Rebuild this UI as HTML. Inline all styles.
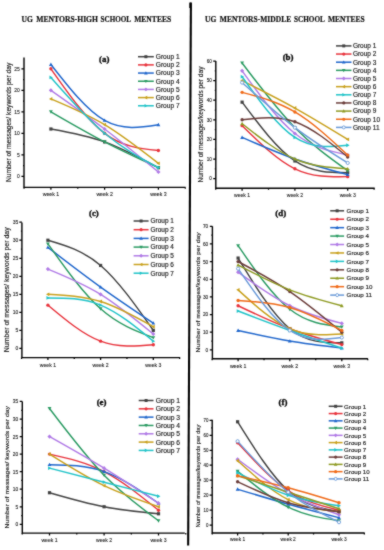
<!DOCTYPE html>
<html><head><meta charset="utf-8"><style>
html,body{margin:0;padding:0;background:#fff;}
svg{display:block;}
.tl{font-family:"Liberation Sans",sans-serif;font-size:5.6px;fill:#1a1a1a;stroke:#1a1a1a;stroke-width:0.12px;}
.wk{font-family:"Liberation Sans",sans-serif;font-size:5.4px;fill:#1a1a1a;stroke:#1a1a1a;stroke-width:0.1px;}
.yl{font-family:"Liberation Sans",sans-serif;font-size:6px;fill:#1a1a1a;stroke:#1a1a1a;stroke-width:0.15px;}
.lg{font-family:"Liberation Sans",sans-serif;font-size:6.7px;fill:#1a1a1a;stroke:#1a1a1a;stroke-width:0.15px;}
.pl{font-family:"Liberation Serif",serif;font-weight:bold;font-size:8.9px;fill:#0a0a0a;stroke:#0a0a0a;stroke-width:0.35px;}
.hd{font-family:"Liberation Serif",serif;font-weight:bold;font-size:8.5px;fill:#111;stroke:#111;stroke-width:0.2px;}
</style></head><body>
<svg width="384" height="550" viewBox="0 0 384 550">
<defs><filter id="soft" x="0" y="0" width="384" height="550" filterUnits="userSpaceOnUse" color-interpolation-filters="sRGB"><feConvolveMatrix order="3" kernelMatrix="1 2 1 2 16 2 1 2 1" divisor="28" edgeMode="duplicate"/></filter></defs>
<g filter="url(#soft)">
<rect width="384" height="550" fill="#fff"/>
<text x="21.6" y="21.5" class="hd" textLength="11.3" lengthAdjust="spacingAndGlyphs">UG</text>
<text x="36.2" y="21.5" class="hd" textLength="61.8" lengthAdjust="spacingAndGlyphs">MENTORS-HIGH</text>
<text x="100.6" y="21.5" class="hd" textLength="30.5" lengthAdjust="spacingAndGlyphs">SCHOOL</text>
<text x="134.2" y="21.5" class="hd" textLength="37.0" lengthAdjust="spacingAndGlyphs">MENTEES</text>
<text x="205.1" y="22.3" class="hd" textLength="11.2" lengthAdjust="spacingAndGlyphs">UG</text>
<text x="219.8" y="22.3" class="hd" textLength="71.4" lengthAdjust="spacingAndGlyphs">MENTORS-MIDDLE</text>
<text x="294.0" y="22.3" class="hd" textLength="30.8" lengthAdjust="spacingAndGlyphs">SCHOOL</text>
<text x="328.0" y="22.3" class="hd" textLength="36.7" lengthAdjust="spacingAndGlyphs">MENTEES</text>
<path d="M190.9,2.6 L188.15,545.4" stroke="#000" stroke-width="2.1"/>
<rect x="189.3" y="2.6" width="1.5" height="5.4" fill="#000"/>
<path d="M24.00,57.60 V187.40 H185.60" fill="none" stroke="#000" stroke-width="1.4"/>
<text x="16.95" y="178.28" class="tl" style="font-size:5.5px" textLength="2.75" lengthAdjust="spacingAndGlyphs">0</text>
<text x="16.95" y="156.78" class="tl" style="font-size:5.5px" textLength="2.75" lengthAdjust="spacingAndGlyphs">5</text>
<text x="14.20" y="135.28" class="tl" style="font-size:5.5px" textLength="5.50" lengthAdjust="spacingAndGlyphs">10</text>
<text x="14.20" y="113.78" class="tl" style="font-size:5.5px" textLength="5.50" lengthAdjust="spacingAndGlyphs">15</text>
<text x="14.20" y="92.28" class="tl" style="font-size:5.5px" textLength="5.50" lengthAdjust="spacingAndGlyphs">20</text>
<text x="14.20" y="70.78" class="tl" style="font-size:5.5px" textLength="5.50" lengthAdjust="spacingAndGlyphs">25</text>
<text x="50.90" y="196.00" class="wk" style="font-size:5.2px" text-anchor="middle">week 1</text>
<text x="104.60" y="196.00" class="wk" style="font-size:5.2px" text-anchor="middle">week 2</text>
<text x="158.40" y="196.00" class="wk" style="font-size:5.2px" text-anchor="middle">week 3</text>
<path d="M21.40,176.30 H24.00 M21.40,154.80 H24.00 M21.40,133.30 H24.00 M21.40,111.80 H24.00 M21.40,90.30 H24.00 M21.40,68.80 H24.00 M23.00,165.55 H24.00 M23.00,144.05 H24.00 M23.00,122.55 H24.00 M23.00,101.05 H24.00 M23.00,79.55 H24.00 M50.90,187.40 V189.80 M104.60,187.40 V189.80 M158.40,187.40 V189.80 M24.02,187.40 V188.80 M77.78,187.40 V188.80 M131.47,187.40 V188.80 M185.28,187.40 V188.80" fill="none" stroke="#000" stroke-width="1.25"/>
<text x="-59.75" y="2.38" transform="translate(8.65 122.35) rotate(-90)" class="yl" style="font-size:6.6px" textLength="119.5" lengthAdjust="spacingAndGlyphs">Number of messages/ keywords per day</text>
<path d="M50.90,129.00 C68.80,132.23 86.70,135.46 104.60,141.90 C122.53,148.35 140.47,158.03 158.40,167.70" fill="none" stroke="#424242" stroke-width="1.45"/>
<rect x="49.30" y="127.40" width="3.20" height="3.20" fill="#424242"/>
<rect x="103.00" y="140.30" width="3.20" height="3.20" fill="#424242"/>
<rect x="156.80" y="166.10" width="3.20" height="3.20" fill="#424242"/>
<path d="M50.90,68.80 C68.80,94.24 86.70,119.68 104.60,133.30 C122.53,146.94 140.47,148.72 158.40,150.50" fill="none" stroke="#e8333c" stroke-width="1.45"/>
<circle cx="50.90" cy="68.80" r="1.68" fill="#e8333c"/>
<circle cx="104.60" cy="133.30" r="1.68" fill="#e8333c"/>
<circle cx="158.40" cy="150.50" r="1.68" fill="#e8333c"/>
<path d="M50.90,64.50 C68.80,87.43 86.70,110.36 104.60,120.40 C122.53,130.46 140.47,127.58 158.40,124.70" fill="none" stroke="#1f66cc" stroke-width="1.45"/>
<polygon points="50.90,62.58 48.98,65.94 52.82,65.94" fill="#1f66cc"/>
<polygon points="104.60,118.48 102.68,121.84 106.52,121.84" fill="#1f66cc"/>
<polygon points="158.40,122.78 156.48,126.14 160.32,126.14" fill="#1f66cc"/>
<path d="M50.90,111.80 C68.80,122.20 86.70,132.59 104.60,141.90 C122.53,151.23 140.47,159.46 158.40,167.70" fill="none" stroke="#2b9b63" stroke-width="1.45"/>
<polygon points="50.90,113.72 48.98,110.36 52.82,110.36" fill="#2b9b63"/>
<polygon points="104.60,143.82 102.68,140.46 106.52,140.46" fill="#2b9b63"/>
<polygon points="158.40,169.62 156.48,166.26 160.32,166.26" fill="#2b9b63"/>
<path d="M50.90,90.30 C68.80,102.85 86.70,115.40 104.60,129.00 C122.53,142.63 140.47,157.31 158.40,172.00" fill="none" stroke="#b07ae6" stroke-width="1.45"/>
<polygon points="50.90,88.22 52.98,90.30 50.90,92.38 48.82,90.30" fill="#b07ae6"/>
<polygon points="104.60,126.92 106.68,129.00 104.60,131.08 102.52,129.00" fill="#b07ae6"/>
<polygon points="158.40,169.92 160.48,172.00 158.40,174.08 156.32,172.00" fill="#b07ae6"/>
<path d="M50.90,98.90 C68.80,106.43 86.70,113.96 104.60,124.70 C122.53,135.46 140.47,149.43 158.40,163.40" fill="none" stroke="#c8a01c" stroke-width="1.45"/>
<polygon points="48.98,98.90 52.34,96.98 52.34,100.82" fill="#c8a01c"/>
<polygon points="102.68,124.70 106.04,122.78 106.04,126.62" fill="#c8a01c"/>
<polygon points="156.48,163.40 159.84,161.48 159.84,165.32" fill="#c8a01c"/>
<path d="M50.90,77.40 C68.80,97.83 86.70,118.26 104.60,133.30 C122.53,148.37 140.47,158.04 158.40,167.70" fill="none" stroke="#1fc3c8" stroke-width="1.45"/>
<polygon points="52.82,77.40 49.46,75.48 49.46,79.32" fill="#1fc3c8"/>
<polygon points="106.52,133.30 103.16,131.38 103.16,135.22" fill="#1fc3c8"/>
<polygon points="160.32,167.70 156.96,165.78 156.96,169.62" fill="#1fc3c8"/>
<path d="M138.00,56.70 H153.80" stroke="#424242" stroke-width="1.5"/>
<rect x="144.40" y="55.20" width="3.00" height="3.00" fill="#424242"/>
<text x="155.80" y="59.08" class="lg" style="font-size:6.6px">Group 1</text>
<path d="M138.00,64.88 H153.80" stroke="#e8333c" stroke-width="1.5"/>
<circle cx="145.90" cy="64.88" r="1.58" fill="#e8333c"/>
<text x="155.80" y="67.26" class="lg" style="font-size:6.6px">Group 2</text>
<path d="M138.00,73.06 H153.80" stroke="#1f66cc" stroke-width="1.5"/>
<polygon points="145.90,71.26 144.10,74.41 147.70,74.41" fill="#1f66cc"/>
<text x="155.80" y="75.44" class="lg" style="font-size:6.6px">Group 3</text>
<path d="M138.00,81.24 H153.80" stroke="#2b9b63" stroke-width="1.5"/>
<polygon points="145.90,83.04 144.10,79.89 147.70,79.89" fill="#2b9b63"/>
<text x="155.80" y="83.62" class="lg" style="font-size:6.6px">Group 4</text>
<path d="M138.00,89.42 H153.80" stroke="#b07ae6" stroke-width="1.5"/>
<polygon points="145.90,87.47 147.85,89.42 145.90,91.37 143.95,89.42" fill="#b07ae6"/>
<text x="155.80" y="91.80" class="lg" style="font-size:6.6px">Group 5</text>
<path d="M138.00,97.60 H153.80" stroke="#c8a01c" stroke-width="1.5"/>
<polygon points="144.10,97.60 147.25,95.80 147.25,99.40" fill="#c8a01c"/>
<text x="155.80" y="99.98" class="lg" style="font-size:6.6px">Group 6</text>
<path d="M138.00,105.78 H153.80" stroke="#1fc3c8" stroke-width="1.5"/>
<polygon points="147.70,105.78 144.55,103.98 144.55,107.58" fill="#1fc3c8"/>
<text x="155.80" y="108.16" class="lg" style="font-size:6.6px">Group 7</text>
<text x="104.30" y="61.70" class="pl" text-anchor="middle">(a)</text>
<path d="M215.80,61.00 V188.30 H374.70" fill="none" stroke="#000" stroke-width="1.4"/>
<text x="209.25" y="180.44" class="tl" style="font-size:5.1px" textLength="2.55" lengthAdjust="spacingAndGlyphs">0</text>
<text x="206.70" y="160.84" class="tl" style="font-size:5.1px" textLength="5.10" lengthAdjust="spacingAndGlyphs">10</text>
<text x="206.70" y="141.24" class="tl" style="font-size:5.1px" textLength="5.10" lengthAdjust="spacingAndGlyphs">20</text>
<text x="206.70" y="121.64" class="tl" style="font-size:5.1px" textLength="5.10" lengthAdjust="spacingAndGlyphs">30</text>
<text x="206.70" y="102.04" class="tl" style="font-size:5.1px" textLength="5.10" lengthAdjust="spacingAndGlyphs">40</text>
<text x="206.70" y="82.44" class="tl" style="font-size:5.1px" textLength="5.10" lengthAdjust="spacingAndGlyphs">50</text>
<text x="206.70" y="62.84" class="tl" style="font-size:5.1px" textLength="5.10" lengthAdjust="spacingAndGlyphs">60</text>
<text x="242.10" y="197.40" class="wk" style="font-size:5.1px" text-anchor="middle">week 1</text>
<text x="294.90" y="197.40" class="wk" style="font-size:5.1px" text-anchor="middle">week 2</text>
<text x="347.70" y="197.40" class="wk" style="font-size:5.1px" text-anchor="middle">week 3</text>
<path d="M213.20,178.60 H215.80 M213.20,159.00 H215.80 M213.20,139.40 H215.80 M213.20,119.80 H215.80 M213.20,100.20 H215.80 M213.20,80.60 H215.80 M213.20,61.00 H215.80 M214.80,168.80 H215.80 M214.80,149.20 H215.80 M214.80,129.60 H215.80 M214.80,110.00 H215.80 M214.80,90.40 H215.80 M214.80,70.80 H215.80 M242.10,188.30 V190.70 M294.90,188.30 V190.70 M347.70,188.30 V190.70 M215.70,188.30 V189.70 M268.50,188.30 V189.70 M321.30,188.30 V189.70 M374.10,188.30 V189.70" fill="none" stroke="#000" stroke-width="1.25"/>
<text x="-58.05" y="2.30" transform="translate(200.45 124.55) rotate(-90)" class="yl" style="font-size:6.4px" textLength="116.1" lengthAdjust="spacingAndGlyphs">Number of messages/keywords per day</text>
<path d="M242.10,102.16 C259.70,125.68 277.30,149.20 294.90,160.96 C312.50,172.72 330.10,172.72 347.70,172.72" fill="none" stroke="#424242" stroke-width="1.45"/>
<rect x="240.50" y="100.56" width="3.20" height="3.20" fill="#424242"/>
<rect x="293.30" y="159.36" width="3.20" height="3.20" fill="#424242"/>
<rect x="346.10" y="171.12" width="3.20" height="3.20" fill="#424242"/>
<path d="M242.10,125.68 C259.70,142.99 277.30,160.31 294.90,168.80 C312.50,177.29 330.10,176.97 347.70,176.64" fill="none" stroke="#e8333c" stroke-width="1.45"/>
<circle cx="242.10" cy="125.68" r="1.68" fill="#e8333c"/>
<circle cx="294.90" cy="168.80" r="1.68" fill="#e8333c"/>
<circle cx="347.70" cy="176.64" r="1.68" fill="#e8333c"/>
<path d="M242.10,137.44 C259.70,145.12 277.30,152.79 294.90,159.00 C312.50,165.21 330.10,169.94 347.70,174.68" fill="none" stroke="#1f66cc" stroke-width="1.45"/>
<polygon points="242.10,135.52 240.18,138.88 244.02,138.88" fill="#1f66cc"/>
<polygon points="294.90,157.08 292.98,160.44 296.82,160.44" fill="#1f66cc"/>
<polygon points="347.70,172.76 345.78,176.12 349.62,176.12" fill="#1f66cc"/>
<path d="M242.10,62.96 C259.70,86.32 277.30,109.67 294.90,127.64 C312.50,145.61 330.10,158.18 347.70,170.76" fill="none" stroke="#2b9b63" stroke-width="1.45"/>
<polygon points="242.10,64.88 240.18,61.52 244.02,61.52" fill="#2b9b63"/>
<polygon points="294.90,129.56 292.98,126.20 296.82,126.20" fill="#2b9b63"/>
<polygon points="347.70,172.68 345.78,169.32 349.62,169.32" fill="#2b9b63"/>
<path d="M242.10,70.80 C259.70,95.14 277.30,119.47 294.90,133.52 C312.50,147.57 330.10,151.32 347.70,155.08" fill="none" stroke="#b07ae6" stroke-width="1.45"/>
<polygon points="242.10,68.72 244.18,70.80 242.10,72.88 240.02,70.80" fill="#b07ae6"/>
<polygon points="294.90,131.44 296.98,133.52 294.90,135.60 292.82,133.52" fill="#b07ae6"/>
<polygon points="347.70,153.00 349.78,155.08 347.70,157.16 345.62,155.08" fill="#b07ae6"/>
<path d="M242.10,80.60 C259.70,89.42 277.30,98.24 294.90,108.04 C312.50,117.84 330.10,128.62 347.70,139.40" fill="none" stroke="#c8a01c" stroke-width="1.45"/>
<polygon points="240.18,80.60 243.54,78.68 243.54,82.52" fill="#c8a01c"/>
<polygon points="292.98,108.04 296.34,106.12 296.34,109.96" fill="#c8a01c"/>
<polygon points="345.78,139.40 349.14,137.48 349.14,141.32" fill="#c8a01c"/>
<path d="M242.10,76.68 C259.70,101.34 277.30,126.01 294.90,137.44 C312.50,148.87 330.10,147.08 347.70,145.28" fill="none" stroke="#1fc3c8" stroke-width="1.45"/>
<polygon points="244.02,76.68 240.66,74.76 240.66,78.60" fill="#1fc3c8"/>
<polygon points="296.82,137.44 293.46,135.52 293.46,139.36" fill="#1fc3c8"/>
<polygon points="349.62,145.28 346.26,143.36 346.26,147.20" fill="#1fc3c8"/>
<path d="M242.10,119.80 C259.70,117.68 277.30,115.55 294.90,121.76 C312.50,127.97 330.10,142.50 347.70,157.04" fill="none" stroke="#6b3d3a" stroke-width="1.45"/>
<circle cx="242.10" cy="119.80" r="1.68" fill="#6b3d3a"/>
<circle cx="294.90" cy="121.76" r="1.68" fill="#6b3d3a"/>
<circle cx="347.70" cy="157.04" r="1.68" fill="#6b3d3a"/>
<path d="M242.10,123.72 C259.70,137.60 277.30,151.49 294.90,159.00 C312.50,166.51 330.10,167.66 347.70,168.80" fill="none" stroke="#8e9a22" stroke-width="1.45"/>
<polygon points="242.10,121.80 240.18,125.16 244.02,125.16" fill="#8e9a22"/>
<polygon points="294.90,157.08 292.98,160.44 296.82,160.44" fill="#8e9a22"/>
<polygon points="347.70,166.88 345.78,170.24 349.62,170.24" fill="#8e9a22"/>
<path d="M242.10,92.36 C259.70,96.93 277.30,101.51 294.90,111.96 C312.50,122.41 330.10,138.75 347.70,155.08" fill="none" stroke="#f06a18" stroke-width="1.45"/>
<circle cx="242.10" cy="92.36" r="1.68" fill="#f06a18"/>
<circle cx="294.90" cy="111.96" r="1.68" fill="#f06a18"/>
<circle cx="347.70" cy="155.08" r="1.68" fill="#f06a18"/>
<path d="M242.10,82.56 C259.70,98.40 277.30,114.25 294.90,127.64 C312.50,141.03 330.10,151.98 347.70,162.92" fill="none" stroke="#6a9ad8" stroke-width="1.45"/>
<circle cx="242.10" cy="82.56" r="1.60" fill="#fff" stroke="#6a9ad8" stroke-width="0.9"/>
<circle cx="294.90" cy="127.64" r="1.60" fill="#fff" stroke="#6a9ad8" stroke-width="0.9"/>
<circle cx="347.70" cy="162.92" r="1.60" fill="#fff" stroke="#6a9ad8" stroke-width="0.9"/>
<path d="M336.00,45.90 H351.50" stroke="#424242" stroke-width="1.5"/>
<rect x="342.25" y="44.40" width="3.00" height="3.00" fill="#424242"/>
<text x="352.90" y="48.24" class="lg" style="font-size:6.5px">Group 1</text>
<path d="M336.00,54.05 H351.50" stroke="#e8333c" stroke-width="1.5"/>
<circle cx="343.75" cy="54.05" r="1.58" fill="#e8333c"/>
<text x="352.90" y="56.39" class="lg" style="font-size:6.5px">Group 2</text>
<path d="M336.00,62.20 H351.50" stroke="#1f66cc" stroke-width="1.5"/>
<polygon points="343.75,60.40 341.95,63.55 345.55,63.55" fill="#1f66cc"/>
<text x="352.90" y="64.54" class="lg" style="font-size:6.5px">Group 3</text>
<path d="M336.00,70.35 H351.50" stroke="#2b9b63" stroke-width="1.5"/>
<polygon points="343.75,72.15 341.95,69.00 345.55,69.00" fill="#2b9b63"/>
<text x="352.90" y="72.69" class="lg" style="font-size:6.5px">Group 4</text>
<path d="M336.00,78.50 H351.50" stroke="#b07ae6" stroke-width="1.5"/>
<polygon points="343.75,76.55 345.70,78.50 343.75,80.45 341.80,78.50" fill="#b07ae6"/>
<text x="352.90" y="80.84" class="lg" style="font-size:6.5px">Group 5</text>
<path d="M336.00,86.65 H351.50" stroke="#c8a01c" stroke-width="1.5"/>
<polygon points="341.95,86.65 345.10,84.85 345.10,88.45" fill="#c8a01c"/>
<text x="352.90" y="88.99" class="lg" style="font-size:6.5px">Group 6</text>
<path d="M336.00,94.80 H351.50" stroke="#1fc3c8" stroke-width="1.5"/>
<polygon points="345.55,94.80 342.40,93.00 342.40,96.60" fill="#1fc3c8"/>
<text x="352.90" y="97.14" class="lg" style="font-size:6.5px">Group 7</text>
<path d="M336.00,102.95 H351.50" stroke="#6b3d3a" stroke-width="1.5"/>
<circle cx="343.75" cy="102.95" r="1.58" fill="#6b3d3a"/>
<text x="352.90" y="105.29" class="lg" style="font-size:6.5px">Group 8</text>
<path d="M336.00,111.10 H351.50" stroke="#8e9a22" stroke-width="1.5"/>
<polygon points="343.75,109.30 341.95,112.45 345.55,112.45" fill="#8e9a22"/>
<text x="352.90" y="113.44" class="lg" style="font-size:6.5px">Group 9</text>
<path d="M336.00,119.25 H351.50" stroke="#f06a18" stroke-width="1.5"/>
<circle cx="343.75" cy="119.25" r="1.58" fill="#f06a18"/>
<text x="352.90" y="121.59" class="lg" style="font-size:6.5px">Group 10</text>
<path d="M336.00,127.40 H351.50" stroke="#6a9ad8" stroke-width="1.5"/>
<circle cx="343.75" cy="127.40" r="1.50" fill="#fff" stroke="#6a9ad8" stroke-width="0.9"/>
<text x="352.90" y="129.74" class="lg" style="font-size:6.5px">Group 11</text>
<text x="288.10" y="59.60" class="pl" text-anchor="middle">(b)</text>
<path d="M21.90,222.50 V357.60 H180.10" fill="none" stroke="#000" stroke-width="1.4"/>
<text x="15.45" y="350.38" class="tl" style="font-size:5.5px" textLength="2.75" lengthAdjust="spacingAndGlyphs">0</text>
<text x="15.45" y="332.35" class="tl" style="font-size:5.5px" textLength="2.75" lengthAdjust="spacingAndGlyphs">5</text>
<text x="12.70" y="314.32" class="tl" style="font-size:5.5px" textLength="5.50" lengthAdjust="spacingAndGlyphs">10</text>
<text x="12.70" y="296.29" class="tl" style="font-size:5.5px" textLength="5.50" lengthAdjust="spacingAndGlyphs">15</text>
<text x="12.70" y="278.26" class="tl" style="font-size:5.5px" textLength="5.50" lengthAdjust="spacingAndGlyphs">20</text>
<text x="12.70" y="260.23" class="tl" style="font-size:5.5px" textLength="5.50" lengthAdjust="spacingAndGlyphs">25</text>
<text x="12.70" y="242.20" class="tl" style="font-size:5.5px" textLength="5.50" lengthAdjust="spacingAndGlyphs">30</text>
<text x="12.70" y="224.17" class="tl" style="font-size:5.5px" textLength="5.50" lengthAdjust="spacingAndGlyphs">35</text>
<text x="47.90" y="366.70" class="wk" style="font-size:5.1px" text-anchor="middle">week 1</text>
<text x="100.60" y="366.70" class="wk" style="font-size:5.1px" text-anchor="middle">week 2</text>
<text x="153.30" y="366.70" class="wk" style="font-size:5.1px" text-anchor="middle">week 3</text>
<path d="M19.30,348.40 H21.90 M19.30,330.37 H21.90 M19.30,312.34 H21.90 M19.30,294.31 H21.90 M19.30,276.28 H21.90 M19.30,258.25 H21.90 M19.30,240.22 H21.90 M19.30,222.19 H21.90 M20.90,339.38 H21.90 M20.90,321.35 H21.90 M20.90,303.32 H21.90 M20.90,285.29 H21.90 M20.90,267.26 H21.90 M20.90,249.23 H21.90 M20.90,231.20 H21.90 M47.90,357.60 V360.00 M100.60,357.60 V360.00 M153.30,357.60 V360.00 M21.55,357.60 V359.00 M74.25,357.60 V359.00 M126.95,357.60 V359.00 M179.65,357.60 V359.00" fill="none" stroke="#000" stroke-width="1.25"/>
<text x="-62.50" y="2.27" transform="translate(6.55 289.80) rotate(-90)" class="yl" style="font-size:6.3px" textLength="125.0" lengthAdjust="spacingAndGlyphs">Number of messages/ keywords per day</text>
<path d="M47.90,240.22 C65.47,245.33 83.03,250.44 100.60,265.46 C118.17,280.49 135.73,305.43 153.30,330.37" fill="none" stroke="#424242" stroke-width="1.45"/>
<rect x="46.30" y="238.62" width="3.20" height="3.20" fill="#424242"/>
<rect x="99.00" y="263.86" width="3.20" height="3.20" fill="#424242"/>
<rect x="151.70" y="328.77" width="3.20" height="3.20" fill="#424242"/>
<path d="M47.90,305.13 C65.47,319.85 83.03,334.58 100.60,341.19 C118.17,347.80 135.73,346.30 153.30,344.79" fill="none" stroke="#e8333c" stroke-width="1.45"/>
<circle cx="47.90" cy="305.13" r="1.68" fill="#e8333c"/>
<circle cx="100.60" cy="341.19" r="1.68" fill="#e8333c"/>
<circle cx="153.30" cy="344.79" r="1.68" fill="#e8333c"/>
<path d="M47.90,247.43 C65.47,260.95 83.03,274.48 100.60,287.10 C118.17,299.72 135.73,311.44 153.30,323.16" fill="none" stroke="#1f66cc" stroke-width="1.45"/>
<polygon points="47.90,245.51 45.98,248.87 49.82,248.87" fill="#1f66cc"/>
<polygon points="100.60,285.18 98.68,288.54 102.52,288.54" fill="#1f66cc"/>
<polygon points="153.30,321.24 151.38,324.60 155.22,324.60" fill="#1f66cc"/>
<path d="M47.90,243.83 C65.47,268.47 83.03,293.11 100.60,308.73 C118.17,324.36 135.73,330.97 153.30,337.58" fill="none" stroke="#2b9b63" stroke-width="1.45"/>
<polygon points="47.90,245.75 45.98,242.39 49.82,242.39" fill="#2b9b63"/>
<polygon points="100.60,310.65 98.68,307.29 102.52,307.29" fill="#2b9b63"/>
<polygon points="153.30,339.50 151.38,336.14 155.22,336.14" fill="#2b9b63"/>
<path d="M47.90,269.07 C65.47,276.28 83.03,283.49 100.60,294.31 C118.17,305.13 135.73,319.55 153.30,333.98" fill="none" stroke="#b07ae6" stroke-width="1.45"/>
<polygon points="47.90,266.99 49.98,269.07 47.90,271.15 45.82,269.07" fill="#b07ae6"/>
<polygon points="100.60,292.23 102.68,294.31 100.60,296.39 98.52,294.31" fill="#b07ae6"/>
<polygon points="153.30,331.90 155.38,333.98 153.30,336.06 151.22,333.98" fill="#b07ae6"/>
<path d="M47.90,294.31 C65.47,295.21 83.03,296.11 100.60,301.52 C118.17,306.93 135.73,316.85 153.30,326.76" fill="none" stroke="#c8a01c" stroke-width="1.45"/>
<polygon points="45.98,294.31 49.34,292.39 49.34,296.23" fill="#c8a01c"/>
<polygon points="98.68,301.52 102.04,299.60 102.04,303.44" fill="#c8a01c"/>
<polygon points="151.38,326.76 154.74,324.84 154.74,328.68" fill="#c8a01c"/>
<path d="M47.90,297.92 C65.47,297.92 83.03,297.92 100.60,305.13 C118.17,312.34 135.73,326.76 153.30,341.19" fill="none" stroke="#1fc3c8" stroke-width="1.45"/>
<polygon points="49.82,297.92 46.46,296.00 46.46,299.84" fill="#1fc3c8"/>
<polygon points="102.52,305.13 99.16,303.21 99.16,307.05" fill="#1fc3c8"/>
<polygon points="155.22,341.19 151.86,339.27 151.86,343.11" fill="#1fc3c8"/>
<path d="M133.60,221.00 H148.60" stroke="#424242" stroke-width="1.5"/>
<rect x="139.60" y="219.50" width="3.00" height="3.00" fill="#424242"/>
<text x="150.60" y="223.32" class="lg" style="font-size:6.45px">Group 1</text>
<path d="M133.60,229.70 H148.60" stroke="#e8333c" stroke-width="1.5"/>
<circle cx="141.10" cy="229.70" r="1.58" fill="#e8333c"/>
<text x="150.60" y="232.02" class="lg" style="font-size:6.45px">Group 2</text>
<path d="M133.60,238.40 H148.60" stroke="#1f66cc" stroke-width="1.5"/>
<polygon points="141.10,236.60 139.30,239.75 142.90,239.75" fill="#1f66cc"/>
<text x="150.60" y="240.72" class="lg" style="font-size:6.45px">Group 3</text>
<path d="M133.60,247.10 H148.60" stroke="#2b9b63" stroke-width="1.5"/>
<polygon points="141.10,248.90 139.30,245.75 142.90,245.75" fill="#2b9b63"/>
<text x="150.60" y="249.42" class="lg" style="font-size:6.45px">Group 4</text>
<path d="M133.60,255.80 H148.60" stroke="#b07ae6" stroke-width="1.5"/>
<polygon points="141.10,253.85 143.05,255.80 141.10,257.75 139.15,255.80" fill="#b07ae6"/>
<text x="150.60" y="258.12" class="lg" style="font-size:6.45px">Group 5</text>
<path d="M133.60,264.50 H148.60" stroke="#c8a01c" stroke-width="1.5"/>
<polygon points="139.30,264.50 142.45,262.70 142.45,266.30" fill="#c8a01c"/>
<text x="150.60" y="266.82" class="lg" style="font-size:6.45px">Group 6</text>
<path d="M133.60,273.20 H148.60" stroke="#1fc3c8" stroke-width="1.5"/>
<polygon points="142.90,273.20 139.75,271.40 139.75,275.00" fill="#1fc3c8"/>
<text x="150.60" y="275.52" class="lg" style="font-size:6.45px">Group 7</text>
<text x="93.90" y="215.90" class="pl" text-anchor="middle">(c)</text>
<path d="M212.40,226.20 V358.80 H367.90" fill="none" stroke="#000" stroke-width="1.4"/>
<text x="205.55" y="351.81" class="tl" style="font-size:5.3px" textLength="2.65" lengthAdjust="spacingAndGlyphs">0</text>
<text x="202.90" y="334.15" class="tl" style="font-size:5.3px" textLength="5.30" lengthAdjust="spacingAndGlyphs">10</text>
<text x="202.90" y="316.49" class="tl" style="font-size:5.3px" textLength="5.30" lengthAdjust="spacingAndGlyphs">20</text>
<text x="202.90" y="298.83" class="tl" style="font-size:5.3px" textLength="5.30" lengthAdjust="spacingAndGlyphs">30</text>
<text x="202.90" y="281.17" class="tl" style="font-size:5.3px" textLength="5.30" lengthAdjust="spacingAndGlyphs">40</text>
<text x="202.90" y="263.51" class="tl" style="font-size:5.3px" textLength="5.30" lengthAdjust="spacingAndGlyphs">50</text>
<text x="202.90" y="245.85" class="tl" style="font-size:5.3px" textLength="5.30" lengthAdjust="spacingAndGlyphs">60</text>
<text x="202.90" y="228.19" class="tl" style="font-size:5.3px" textLength="5.30" lengthAdjust="spacingAndGlyphs">70</text>
<text x="238.10" y="368.20" class="wk" style="font-size:5.2px" text-anchor="middle">week 1</text>
<text x="289.80" y="368.20" class="wk" style="font-size:5.2px" text-anchor="middle">week 2</text>
<text x="341.80" y="368.20" class="wk" style="font-size:5.2px" text-anchor="middle">week 3</text>
<path d="M209.80,349.90 H212.40 M209.80,332.24 H212.40 M209.80,314.58 H212.40 M209.80,296.92 H212.40 M209.80,279.26 H212.40 M209.80,261.60 H212.40 M209.80,243.94 H212.40 M209.80,226.28 H212.40 M211.40,341.07 H212.40 M211.40,323.41 H212.40 M211.40,305.75 H212.40 M211.40,288.09 H212.40 M211.40,270.43 H212.40 M211.40,252.77 H212.40 M211.40,235.11 H212.40 M238.10,358.80 V361.20 M289.80,358.80 V361.20 M341.80,358.80 V361.20 M212.17,358.80 V360.20 M264.02,358.80 V360.20 M315.73,358.80 V360.20 M367.73,358.80 V360.20" fill="none" stroke="#000" stroke-width="1.25"/>
<text x="-60.10" y="2.16" transform="translate(197.60 292.40) rotate(-90)" class="yl" style="font-size:6.0px" textLength="120.2" lengthAdjust="spacingAndGlyphs">Number of messages/keywords per day</text>
<path d="M238.10,258.07 C255.33,286.32 272.57,314.57 289.80,328.71 C307.13,342.93 324.47,342.88 341.80,342.84" fill="none" stroke="#424242" stroke-width="1.45"/>
<rect x="236.50" y="256.47" width="3.20" height="3.20" fill="#424242"/>
<rect x="288.20" y="327.11" width="3.20" height="3.20" fill="#424242"/>
<rect x="340.20" y="341.24" width="3.20" height="3.20" fill="#424242"/>
<path d="M238.10,305.75 C255.33,314.00 272.57,322.24 289.80,328.71 C307.13,335.21 324.47,339.91 341.80,344.60" fill="none" stroke="#e8333c" stroke-width="1.45"/>
<circle cx="238.10" cy="305.75" r="1.68" fill="#e8333c"/>
<circle cx="289.80" cy="328.71" r="1.68" fill="#e8333c"/>
<circle cx="341.80" cy="344.60" r="1.68" fill="#e8333c"/>
<path d="M238.10,330.47 C255.33,334.30 272.57,338.13 289.80,341.07 C307.13,344.03 324.47,346.08 341.80,348.13" fill="none" stroke="#1f66cc" stroke-width="1.45"/>
<polygon points="238.10,328.55 236.18,331.91 240.02,331.91" fill="#1f66cc"/>
<polygon points="289.80,339.15 287.88,342.51 291.72,342.51" fill="#1f66cc"/>
<polygon points="341.80,346.21 339.88,349.57 343.72,349.57" fill="#1f66cc"/>
<path d="M238.10,245.71 C255.33,270.72 272.57,295.74 289.80,309.28 C307.13,322.91 324.47,324.92 341.80,326.94" fill="none" stroke="#2b9b63" stroke-width="1.45"/>
<polygon points="238.10,247.63 236.18,244.27 240.02,244.27" fill="#2b9b63"/>
<polygon points="289.80,311.20 287.88,307.84 291.72,307.84" fill="#2b9b63"/>
<polygon points="341.80,328.86 339.88,325.50 343.72,325.50" fill="#2b9b63"/>
<path d="M238.10,272.20 C255.33,284.71 272.57,297.22 289.80,305.75 C307.13,314.33 324.47,318.87 341.80,323.41" fill="none" stroke="#b07ae6" stroke-width="1.45"/>
<polygon points="238.10,270.12 240.18,272.20 238.10,274.28 236.02,272.20" fill="#b07ae6"/>
<polygon points="289.80,303.67 291.88,305.75 289.80,307.83 287.72,305.75" fill="#b07ae6"/>
<polygon points="341.80,321.33 343.88,323.41 341.80,325.49 339.72,323.41" fill="#b07ae6"/>
<path d="M238.10,289.86 C255.33,305.60 272.57,321.34 289.80,328.71 C307.13,336.12 324.47,335.06 341.80,334.01" fill="none" stroke="#c8a01c" stroke-width="1.45"/>
<polygon points="236.18,289.86 239.54,287.94 239.54,291.78" fill="#c8a01c"/>
<polygon points="287.88,328.71 291.24,326.79 291.24,330.63" fill="#c8a01c"/>
<polygon points="339.88,334.01 343.24,332.09 343.24,335.93" fill="#c8a01c"/>
<path d="M238.10,311.05 C255.33,317.68 272.57,324.31 289.80,330.47 C307.13,336.67 324.47,342.40 341.80,348.13" fill="none" stroke="#1fc3c8" stroke-width="1.45"/>
<polygon points="240.02,311.05 236.66,309.13 236.66,312.97" fill="#1fc3c8"/>
<polygon points="291.72,330.47 288.36,328.55 288.36,332.39" fill="#1fc3c8"/>
<polygon points="343.72,348.13 340.36,346.21 340.36,350.05" fill="#1fc3c8"/>
<path d="M238.10,261.60 C255.33,270.75 272.57,279.89 289.80,291.62 C307.13,303.42 324.47,317.83 341.80,332.24" fill="none" stroke="#6b3d3a" stroke-width="1.45"/>
<circle cx="238.10" cy="261.60" r="1.68" fill="#6b3d3a"/>
<circle cx="289.80" cy="291.62" r="1.68" fill="#6b3d3a"/>
<circle cx="341.80" cy="332.24" r="1.68" fill="#6b3d3a"/>
<path d="M238.10,265.13 C255.33,274.11 272.57,283.10 289.80,289.86 C307.13,296.65 324.47,301.20 341.80,305.75" fill="none" stroke="#8e9a22" stroke-width="1.45"/>
<polygon points="238.10,263.21 236.18,266.57 240.02,266.57" fill="#8e9a22"/>
<polygon points="289.80,287.94 287.88,291.30 291.72,291.30" fill="#8e9a22"/>
<polygon points="341.80,303.83 339.88,307.19 343.72,307.19" fill="#8e9a22"/>
<path d="M238.10,300.45 C255.33,301.50 272.57,302.54 289.80,307.52 C307.13,312.52 324.47,321.50 341.80,330.47" fill="none" stroke="#f06a18" stroke-width="1.45"/>
<circle cx="238.10" cy="300.45" r="1.68" fill="#f06a18"/>
<circle cx="289.80" cy="307.52" r="1.68" fill="#f06a18"/>
<circle cx="341.80" cy="330.47" r="1.68" fill="#f06a18"/>
<path d="M238.10,268.66 C255.33,293.82 272.57,318.98 289.80,330.47 C307.13,342.04 324.47,339.79 341.80,337.54" fill="none" stroke="#6a9ad8" stroke-width="1.45"/>
<circle cx="238.10" cy="268.66" r="1.60" fill="#fff" stroke="#6a9ad8" stroke-width="0.9"/>
<circle cx="289.80" cy="330.47" r="1.60" fill="#fff" stroke="#6a9ad8" stroke-width="0.9"/>
<circle cx="341.80" cy="337.54" r="1.60" fill="#fff" stroke="#6a9ad8" stroke-width="0.9"/>
<path d="M330.20,210.80 H344.10" stroke="#424242" stroke-width="1.5"/>
<rect x="335.65" y="209.30" width="3.00" height="3.00" fill="#424242"/>
<text x="346.60" y="213.03" class="lg" style="font-size:6.2px">Group 1</text>
<path d="M330.20,219.23 H344.10" stroke="#e8333c" stroke-width="1.5"/>
<circle cx="337.15" cy="219.23" r="1.58" fill="#e8333c"/>
<text x="346.60" y="221.46" class="lg" style="font-size:6.2px">Group 2</text>
<path d="M330.20,227.66 H344.10" stroke="#1f66cc" stroke-width="1.5"/>
<polygon points="337.15,225.86 335.35,229.01 338.95,229.01" fill="#1f66cc"/>
<text x="346.60" y="229.89" class="lg" style="font-size:6.2px">Group 3</text>
<path d="M330.20,236.09 H344.10" stroke="#2b9b63" stroke-width="1.5"/>
<polygon points="337.15,237.89 335.35,234.74 338.95,234.74" fill="#2b9b63"/>
<text x="346.60" y="238.32" class="lg" style="font-size:6.2px">Group 4</text>
<path d="M330.20,244.52 H344.10" stroke="#b07ae6" stroke-width="1.5"/>
<polygon points="337.15,242.57 339.10,244.52 337.15,246.47 335.20,244.52" fill="#b07ae6"/>
<text x="346.60" y="246.75" class="lg" style="font-size:6.2px">Group 5</text>
<path d="M330.20,252.95 H344.10" stroke="#c8a01c" stroke-width="1.5"/>
<polygon points="335.35,252.95 338.50,251.15 338.50,254.75" fill="#c8a01c"/>
<text x="346.60" y="255.18" class="lg" style="font-size:6.2px">Group 6</text>
<path d="M330.20,261.38 H344.10" stroke="#1fc3c8" stroke-width="1.5"/>
<polygon points="338.95,261.38 335.80,259.58 335.80,263.18" fill="#1fc3c8"/>
<text x="346.60" y="263.61" class="lg" style="font-size:6.2px">Group 7</text>
<path d="M330.20,269.81 H344.10" stroke="#6b3d3a" stroke-width="1.5"/>
<circle cx="337.15" cy="269.81" r="1.58" fill="#6b3d3a"/>
<text x="346.60" y="272.04" class="lg" style="font-size:6.2px">Group 8</text>
<path d="M330.20,278.24 H344.10" stroke="#8e9a22" stroke-width="1.5"/>
<polygon points="337.15,276.44 335.35,279.59 338.95,279.59" fill="#8e9a22"/>
<text x="346.60" y="280.47" class="lg" style="font-size:6.2px">Group 9</text>
<path d="M330.20,286.67 H344.10" stroke="#f06a18" stroke-width="1.5"/>
<circle cx="337.15" cy="286.67" r="1.58" fill="#f06a18"/>
<text x="346.60" y="288.90" class="lg" style="font-size:6.2px">Group 10</text>
<path d="M330.20,295.10 H344.10" stroke="#6a9ad8" stroke-width="1.5"/>
<circle cx="337.15" cy="295.10" r="1.50" fill="#fff" stroke="#6a9ad8" stroke-width="0.9"/>
<text x="346.60" y="297.33" class="lg" style="font-size:6.2px">Group 11</text>
<text x="280.70" y="216.10" class="pl" text-anchor="middle">(d)</text>
<path d="M22.30,401.50 V533.10 H184.80" fill="none" stroke="#000" stroke-width="1.4"/>
<text x="15.50" y="526.24" class="tl" style="font-size:5.4px" textLength="2.70" lengthAdjust="spacingAndGlyphs">0</text>
<text x="15.50" y="508.70" class="tl" style="font-size:5.4px" textLength="2.70" lengthAdjust="spacingAndGlyphs">5</text>
<text x="12.80" y="491.15" class="tl" style="font-size:5.4px" textLength="5.40" lengthAdjust="spacingAndGlyphs">10</text>
<text x="12.80" y="473.61" class="tl" style="font-size:5.4px" textLength="5.40" lengthAdjust="spacingAndGlyphs">15</text>
<text x="12.80" y="456.06" class="tl" style="font-size:5.4px" textLength="5.40" lengthAdjust="spacingAndGlyphs">20</text>
<text x="12.80" y="438.52" class="tl" style="font-size:5.4px" textLength="5.40" lengthAdjust="spacingAndGlyphs">25</text>
<text x="12.80" y="420.97" class="tl" style="font-size:5.4px" textLength="5.40" lengthAdjust="spacingAndGlyphs">30</text>
<text x="12.80" y="403.43" class="tl" style="font-size:5.4px" textLength="5.40" lengthAdjust="spacingAndGlyphs">35</text>
<text x="49.50" y="541.70" class="wk" style="font-size:5.1px" text-anchor="middle">week 1</text>
<text x="104.10" y="541.70" class="wk" style="font-size:5.1px" text-anchor="middle">week 2</text>
<text x="158.50" y="541.70" class="wk" style="font-size:5.1px" text-anchor="middle">week 3</text>
<path d="M19.70,524.30 H22.30 M19.70,506.75 H22.30 M19.70,489.21 H22.30 M19.70,471.66 H22.30 M19.70,454.12 H22.30 M19.70,436.57 H22.30 M19.70,419.03 H22.30 M19.70,401.48 H22.30 M21.30,515.53 H22.30 M21.30,497.98 H22.30 M21.30,480.44 H22.30 M21.30,462.89 H22.30 M21.30,445.35 H22.30 M21.30,427.80 H22.30 M21.30,410.26 H22.30 M49.50,533.10 V535.50 M104.10,533.10 V535.50 M158.50,533.10 V535.50 M22.25,533.10 V534.50 M76.75,533.10 V534.50 M131.35,533.10 V534.50 M185.75,533.10 V534.50" fill="none" stroke="#000" stroke-width="1.25"/>
<text x="-61.15" y="2.20" transform="translate(6.70 467.25) rotate(-90)" class="yl" style="font-size:6.1px" textLength="122.3" lengthAdjust="spacingAndGlyphs">Number of messages/ keywords per day</text>
<path d="M49.50,492.72 C67.70,497.98 85.90,503.24 104.10,506.75 C122.23,510.25 140.37,512.01 158.50,513.77" fill="none" stroke="#424242" stroke-width="1.45"/>
<rect x="47.90" y="491.12" width="3.20" height="3.20" fill="#424242"/>
<rect x="102.50" y="505.15" width="3.20" height="3.20" fill="#424242"/>
<rect x="156.90" y="512.17" width="3.20" height="3.20" fill="#424242"/>
<path d="M49.50,454.12 C67.70,458.20 85.90,462.28 104.10,471.66 C122.23,481.02 140.37,495.64 158.50,510.26" fill="none" stroke="#e8333c" stroke-width="1.45"/>
<circle cx="49.50" cy="454.12" r="1.68" fill="#e8333c"/>
<circle cx="104.10" cy="471.66" r="1.68" fill="#e8333c"/>
<circle cx="158.50" cy="510.26" r="1.68" fill="#e8333c"/>
<path d="M49.50,464.65 C67.70,464.93 85.90,465.20 104.10,471.66 C122.23,478.10 140.37,490.67 158.50,503.25" fill="none" stroke="#1f66cc" stroke-width="1.45"/>
<polygon points="49.50,462.73 47.58,466.09 51.42,466.09" fill="#1f66cc"/>
<polygon points="104.10,469.74 102.18,473.10 106.02,473.10" fill="#1f66cc"/>
<polygon points="158.50,501.33 156.58,504.69 160.42,504.69" fill="#1f66cc"/>
<path d="M49.50,408.50 C67.70,432.47 85.90,456.44 104.10,475.17 C122.23,493.84 140.37,507.32 158.50,520.79" fill="none" stroke="#2b9b63" stroke-width="1.45"/>
<polygon points="49.50,410.42 47.58,407.06 51.42,407.06" fill="#2b9b63"/>
<polygon points="104.10,477.09 102.18,473.73 106.02,473.73" fill="#2b9b63"/>
<polygon points="158.50,522.71 156.58,519.35 160.42,519.35" fill="#2b9b63"/>
<path d="M49.50,436.57 C67.70,446.80 85.90,457.02 104.10,468.16 C122.23,479.25 140.37,491.25 158.50,503.25" fill="none" stroke="#b07ae6" stroke-width="1.45"/>
<polygon points="49.50,434.49 51.58,436.57 49.50,438.65 47.42,436.57" fill="#b07ae6"/>
<polygon points="104.10,466.08 106.18,468.16 104.10,470.24 102.02,468.16" fill="#b07ae6"/>
<polygon points="158.50,501.17 160.58,503.25 158.50,505.33 156.42,503.25" fill="#b07ae6"/>
<path d="M49.50,454.12 C67.70,465.52 85.90,476.92 104.10,485.70 C122.23,494.45 140.37,500.60 158.50,506.75" fill="none" stroke="#c8a01c" stroke-width="1.45"/>
<polygon points="47.58,454.12 50.94,452.20 50.94,456.04" fill="#c8a01c"/>
<polygon points="102.18,485.70 105.54,483.78 105.54,487.62" fill="#c8a01c"/>
<polygon points="156.58,506.75 159.94,504.83 159.94,508.67" fill="#c8a01c"/>
<path d="M49.50,468.16 C67.70,472.83 85.90,477.50 104.10,482.19 C122.23,486.86 140.37,491.55 158.50,496.23" fill="none" stroke="#1fc3c8" stroke-width="1.45"/>
<polygon points="51.42,468.16 48.06,466.24 48.06,470.08" fill="#1fc3c8"/>
<polygon points="106.02,482.19 102.66,480.27 102.66,484.11" fill="#1fc3c8"/>
<polygon points="160.42,496.23 157.06,494.31 157.06,498.15" fill="#1fc3c8"/>
<path d="M138.70,400.50 H153.50" stroke="#424242" stroke-width="1.5"/>
<rect x="144.60" y="399.00" width="3.00" height="3.00" fill="#424242"/>
<text x="155.70" y="402.93" class="lg" style="font-size:6.75px">Group 1</text>
<path d="M138.70,408.82 H153.50" stroke="#e8333c" stroke-width="1.5"/>
<circle cx="146.10" cy="408.82" r="1.58" fill="#e8333c"/>
<text x="155.70" y="411.25" class="lg" style="font-size:6.75px">Group 2</text>
<path d="M138.70,417.14 H153.50" stroke="#1f66cc" stroke-width="1.5"/>
<polygon points="146.10,415.34 144.30,418.49 147.90,418.49" fill="#1f66cc"/>
<text x="155.70" y="419.57" class="lg" style="font-size:6.75px">Group 3</text>
<path d="M138.70,425.46 H153.50" stroke="#2b9b63" stroke-width="1.5"/>
<polygon points="146.10,427.26 144.30,424.11 147.90,424.11" fill="#2b9b63"/>
<text x="155.70" y="427.89" class="lg" style="font-size:6.75px">Group 4</text>
<path d="M138.70,433.78 H153.50" stroke="#b07ae6" stroke-width="1.5"/>
<polygon points="146.10,431.83 148.05,433.78 146.10,435.73 144.15,433.78" fill="#b07ae6"/>
<text x="155.70" y="436.21" class="lg" style="font-size:6.75px">Group 5</text>
<path d="M138.70,442.10 H153.50" stroke="#c8a01c" stroke-width="1.5"/>
<polygon points="144.30,442.10 147.45,440.30 147.45,443.90" fill="#c8a01c"/>
<text x="155.70" y="444.53" class="lg" style="font-size:6.75px">Group 6</text>
<path d="M138.70,450.42 H153.50" stroke="#1fc3c8" stroke-width="1.5"/>
<polygon points="147.90,450.42 144.75,448.62 144.75,452.22" fill="#1fc3c8"/>
<text x="155.70" y="452.85" class="lg" style="font-size:6.75px">Group 7</text>
<text x="101.60" y="404.80" class="pl" text-anchor="middle">(e)</text>
<path d="M212.20,419.70 V533.00 H364.70" fill="none" stroke="#000" stroke-width="1.4"/>
<text x="205.95" y="526.96" class="tl" style="font-size:4.9px" textLength="2.45" lengthAdjust="spacingAndGlyphs">0</text>
<text x="203.50" y="511.97" class="tl" style="font-size:4.9px" textLength="4.90" lengthAdjust="spacingAndGlyphs">10</text>
<text x="203.50" y="496.98" class="tl" style="font-size:4.9px" textLength="4.90" lengthAdjust="spacingAndGlyphs">20</text>
<text x="203.50" y="481.99" class="tl" style="font-size:4.9px" textLength="4.90" lengthAdjust="spacingAndGlyphs">30</text>
<text x="203.50" y="467.00" class="tl" style="font-size:4.9px" textLength="4.90" lengthAdjust="spacingAndGlyphs">40</text>
<text x="203.50" y="452.01" class="tl" style="font-size:4.9px" textLength="4.90" lengthAdjust="spacingAndGlyphs">50</text>
<text x="203.50" y="437.02" class="tl" style="font-size:4.9px" textLength="4.90" lengthAdjust="spacingAndGlyphs">60</text>
<text x="203.50" y="422.03" class="tl" style="font-size:4.9px" textLength="4.90" lengthAdjust="spacingAndGlyphs">70</text>
<text x="237.60" y="541.20" class="wk" style="font-size:4.8px" text-anchor="middle">week 1</text>
<text x="288.20" y="541.20" class="wk" style="font-size:4.8px" text-anchor="middle">week 2</text>
<text x="339.00" y="541.20" class="wk" style="font-size:4.8px" text-anchor="middle">week 3</text>
<path d="M209.60,525.20 H212.20 M209.60,510.21 H212.20 M209.60,495.22 H212.20 M209.60,480.23 H212.20 M209.60,465.24 H212.20 M209.60,450.25 H212.20 M209.60,435.26 H212.20 M209.60,420.27 H212.20 M211.20,517.71 H212.20 M211.20,502.72 H212.20 M211.20,487.73 H212.20 M211.20,472.74 H212.20 M211.20,457.75 H212.20 M211.20,442.76 H212.20 M211.20,427.77 H212.20 M237.60,533.00 V535.40 M288.20,533.00 V535.40 M339.00,533.00 V535.40 M212.25,533.00 V534.40 M262.95,533.00 V534.40 M313.55,533.00 V534.40 M364.35,533.00 V534.40" fill="none" stroke="#000" stroke-width="1.25"/>
<text x="-51.40" y="2.12" transform="translate(197.70 476.10) rotate(-90)" class="yl" style="font-size:5.9px" textLength="102.8" lengthAdjust="spacingAndGlyphs">Number of messages/keywords per day</text>
<path d="M237.60,421.77 C254.47,448.75 271.33,475.73 288.20,490.72 C305.13,505.77 322.07,508.74 339.00,511.71" fill="none" stroke="#424242" stroke-width="1.45"/>
<rect x="236.00" y="420.17" width="3.20" height="3.20" fill="#424242"/>
<rect x="286.60" y="489.12" width="3.20" height="3.20" fill="#424242"/>
<rect x="337.40" y="510.11" width="3.20" height="3.20" fill="#424242"/>
<path d="M237.60,442.76 C254.47,461.12 271.33,479.48 288.20,490.72 C305.13,502.01 322.07,506.11 339.00,510.21" fill="none" stroke="#e8333c" stroke-width="1.45"/>
<circle cx="237.60" cy="442.76" r="1.68" fill="#e8333c"/>
<circle cx="288.20" cy="490.72" r="1.68" fill="#e8333c"/>
<circle cx="339.00" cy="510.21" r="1.68" fill="#e8333c"/>
<path d="M237.60,489.22 C254.47,494.35 271.33,499.48 288.20,504.21 C305.13,508.97 322.07,513.34 339.00,517.71" fill="none" stroke="#1f66cc" stroke-width="1.45"/>
<polygon points="237.60,487.30 235.68,490.66 239.52,490.66" fill="#1f66cc"/>
<polygon points="288.20,502.29 286.28,505.65 290.12,505.65" fill="#1f66cc"/>
<polygon points="339.00,515.79 337.08,519.15 340.92,519.15" fill="#1f66cc"/>
<path d="M237.60,471.24 C254.47,485.10 271.33,498.97 288.20,507.21 C305.13,515.49 322.07,518.10 339.00,520.70" fill="none" stroke="#2b9b63" stroke-width="1.45"/>
<polygon points="237.60,473.16 235.68,469.80 239.52,469.80" fill="#2b9b63"/>
<polygon points="288.20,509.13 286.28,505.77 290.12,505.77" fill="#2b9b63"/>
<polygon points="339.00,522.62 337.08,519.26 340.92,519.26" fill="#2b9b63"/>
<path d="M237.60,459.24 C254.47,471.87 271.33,484.49 288.20,493.72 C305.13,502.99 322.07,508.85 339.00,514.71" fill="none" stroke="#b07ae6" stroke-width="1.45"/>
<polygon points="237.60,457.16 239.68,459.24 237.60,461.32 235.52,459.24" fill="#b07ae6"/>
<polygon points="288.20,491.64 290.28,493.72 288.20,495.80 286.12,493.72" fill="#b07ae6"/>
<polygon points="339.00,512.63 341.08,514.71 339.00,516.79 336.92,514.71" fill="#b07ae6"/>
<path d="M237.60,460.74 C254.47,475.98 271.33,491.22 288.20,499.72 C305.13,508.25 322.07,509.98 339.00,511.71" fill="none" stroke="#c8a01c" stroke-width="1.45"/>
<polygon points="235.68,460.74 239.04,458.82 239.04,462.66" fill="#c8a01c"/>
<polygon points="286.28,499.72 289.64,497.80 289.64,501.64" fill="#c8a01c"/>
<polygon points="337.08,511.71 340.44,509.79 340.44,513.63" fill="#c8a01c"/>
<path d="M237.60,472.74 C254.47,481.23 271.33,489.73 288.20,495.22 C305.13,500.74 322.07,503.22 339.00,505.71" fill="none" stroke="#1fc3c8" stroke-width="1.45"/>
<polygon points="239.52,472.74 236.16,470.81 236.16,474.66" fill="#1fc3c8"/>
<polygon points="290.12,495.22 286.76,493.30 286.76,497.14" fill="#1fc3c8"/>
<polygon points="340.92,505.71 337.56,503.79 337.56,507.63" fill="#1fc3c8"/>
<path d="M237.60,481.73 C254.47,489.72 271.33,497.72 288.20,502.72 C305.13,507.73 322.07,509.72 339.00,511.71" fill="none" stroke="#6b3d3a" stroke-width="1.45"/>
<circle cx="237.60" cy="481.73" r="1.68" fill="#6b3d3a"/>
<circle cx="288.20" cy="502.72" r="1.68" fill="#6b3d3a"/>
<circle cx="339.00" cy="511.71" r="1.68" fill="#6b3d3a"/>
<path d="M237.60,475.73 C254.47,481.23 271.33,486.74 288.20,492.22 C305.13,497.73 322.07,503.22 339.00,508.71" fill="none" stroke="#8e9a22" stroke-width="1.45"/>
<polygon points="237.60,473.81 235.68,477.17 239.52,477.17" fill="#8e9a22"/>
<polygon points="288.20,490.30 286.28,493.66 290.12,493.66" fill="#8e9a22"/>
<polygon points="339.00,506.79 337.08,510.15 340.92,510.15" fill="#8e9a22"/>
<path d="M237.60,475.73 C254.47,479.49 271.33,483.24 288.20,487.73 C305.13,492.23 322.07,497.47 339.00,502.72" fill="none" stroke="#f06a18" stroke-width="1.45"/>
<circle cx="237.60" cy="475.73" r="1.68" fill="#f06a18"/>
<circle cx="288.20" cy="487.73" r="1.68" fill="#f06a18"/>
<circle cx="339.00" cy="502.72" r="1.68" fill="#f06a18"/>
<path d="M237.60,441.26 C254.47,460.00 271.33,478.74 288.20,492.22 C305.13,505.75 322.07,513.98 339.00,522.20" fill="none" stroke="#6a9ad8" stroke-width="1.45"/>
<circle cx="237.60" cy="441.26" r="1.60" fill="#fff" stroke="#6a9ad8" stroke-width="0.9"/>
<circle cx="288.20" cy="492.22" r="1.60" fill="#fff" stroke="#6a9ad8" stroke-width="0.9"/>
<circle cx="339.00" cy="522.20" r="1.60" fill="#fff" stroke="#6a9ad8" stroke-width="0.9"/>
<path d="M328.70,406.30 H342.60" stroke="#424242" stroke-width="1.5"/>
<rect x="334.15" y="404.80" width="3.00" height="3.00" fill="#424242"/>
<text x="344.10" y="408.51" class="lg" style="font-size:6.15px">Group 1</text>
<path d="M328.70,413.56 H342.60" stroke="#e8333c" stroke-width="1.5"/>
<circle cx="335.65" cy="413.56" r="1.58" fill="#e8333c"/>
<text x="344.10" y="415.77" class="lg" style="font-size:6.15px">Group 2</text>
<path d="M328.70,420.82 H342.60" stroke="#1f66cc" stroke-width="1.5"/>
<polygon points="335.65,419.02 333.85,422.17 337.45,422.17" fill="#1f66cc"/>
<text x="344.10" y="423.03" class="lg" style="font-size:6.15px">Group 3</text>
<path d="M328.70,428.08 H342.60" stroke="#2b9b63" stroke-width="1.5"/>
<polygon points="335.65,429.88 333.85,426.73 337.45,426.73" fill="#2b9b63"/>
<text x="344.10" y="430.29" class="lg" style="font-size:6.15px">Group 4</text>
<path d="M328.70,435.34 H342.60" stroke="#b07ae6" stroke-width="1.5"/>
<polygon points="335.65,433.39 337.60,435.34 335.65,437.29 333.70,435.34" fill="#b07ae6"/>
<text x="344.10" y="437.55" class="lg" style="font-size:6.15px">Group 5</text>
<path d="M328.70,442.60 H342.60" stroke="#c8a01c" stroke-width="1.5"/>
<polygon points="333.85,442.60 337.00,440.80 337.00,444.40" fill="#c8a01c"/>
<text x="344.10" y="444.81" class="lg" style="font-size:6.15px">Group 6</text>
<path d="M328.70,449.86 H342.60" stroke="#1fc3c8" stroke-width="1.5"/>
<polygon points="337.45,449.86 334.30,448.06 334.30,451.66" fill="#1fc3c8"/>
<text x="344.10" y="452.07" class="lg" style="font-size:6.15px">Group 7</text>
<path d="M328.70,457.12 H342.60" stroke="#6b3d3a" stroke-width="1.5"/>
<circle cx="335.65" cy="457.12" r="1.58" fill="#6b3d3a"/>
<text x="344.10" y="459.33" class="lg" style="font-size:6.15px">Group 8</text>
<path d="M328.70,464.38 H342.60" stroke="#8e9a22" stroke-width="1.5"/>
<polygon points="335.65,462.58 333.85,465.73 337.45,465.73" fill="#8e9a22"/>
<text x="344.10" y="466.59" class="lg" style="font-size:6.15px">Group 9</text>
<path d="M328.70,471.64 H342.60" stroke="#f06a18" stroke-width="1.5"/>
<circle cx="335.65" cy="471.64" r="1.58" fill="#f06a18"/>
<text x="344.10" y="473.85" class="lg" style="font-size:6.15px">Group 10</text>
<path d="M328.70,478.90 H342.60" stroke="#6a9ad8" stroke-width="1.5"/>
<circle cx="335.65" cy="478.90" r="1.50" fill="#fff" stroke="#6a9ad8" stroke-width="0.9"/>
<text x="344.10" y="481.11" class="lg" style="font-size:6.15px">Group 11</text>
<text x="283.00" y="404.80" class="pl" text-anchor="middle">(f)</text>
</g>
</svg>
</body></html>
